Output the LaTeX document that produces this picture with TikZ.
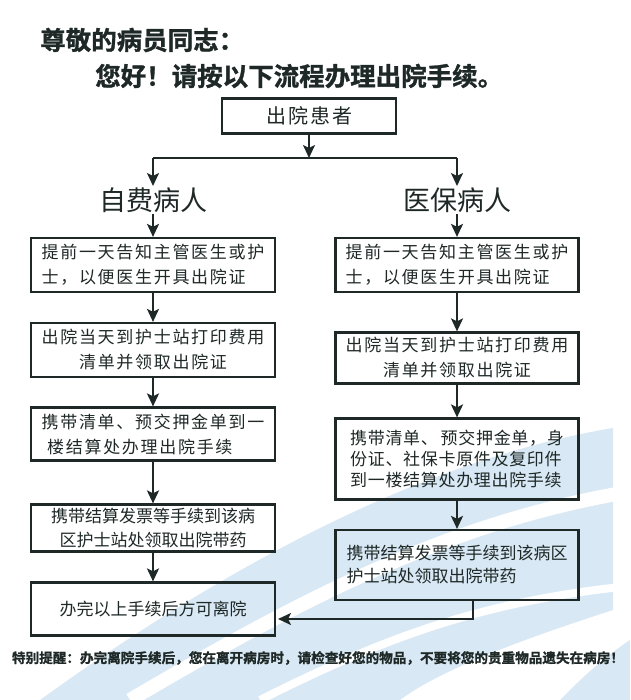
\documentclass[tikz,border=0pt]{standalone}
\usepackage{fontspec}
\newfontfamily\cjk{Noto Sans CJK SC}
\newfontfamily\cjkw[LetterSpace=10]{Noto Sans CJK SC}
\newfontfamily\cjkm[LetterSpace=4]{Noto Sans CJK SC}
\newfontfamily\cjkb[FakeBold=1.2]{Noto Sans CJK SC Bold}
\usetikzlibrary{arrows.meta}
\definecolor{ink}{RGB}{30,40,38}
\definecolor{swoosh}{RGB}{216,232,244}
\tikzset{
  box/.style={draw=ink, line width=2.2pt, rectangle, inner sep=0pt, font=\cjk\fontsize{17}{24}\selectfont, text=ink},
  wide/.style={font=\cjkw\fontsize{17}{25}\selectfont},
  arr/.style={draw=ink, line width=2.2pt, -{Stealth[length=13pt,width=12pt,inset=3pt]}},
  conn/.style={draw=ink, line width=2.2pt},
  head/.style={font=\cjk\fontsize{27}{30}\selectfont, text=ink, inner sep=0pt},
  ttl/.style={font=\cjkb\fontsize{25.5}{28}\selectfont, text=ink, inner sep=0pt, anchor=west}
}
\begin{document}
\begin{tikzpicture}[x=1pt,y=-1pt]
\useasboundingbox (0,0) rectangle (630,700);
% background swooshes
\fill[swoosh] (40,700) .. controls (220,570) and (420,460) .. (613,428) -- (613,610) .. controls (520,640) and (440,670) .. (400,700) -- cycle;
\fill[swoosh] (560,700) .. controls (580,680) and (600,660) .. (630,640) -- (630,700) -- cycle;
\draw[white, line width=14pt] (130,700) .. controls (300,600) and (450,520) .. (640,490);
\draw[white, line width=8pt] (260,700) .. controls (380,640) and (480,600) .. (640,585);
% titles
\node[ttl] (t1) at (40,40) {尊敬的病员同志：};
\node[ttl] (t2) at (95,76) {您好！请按以下流程办理出院手续。};
% top
\node[box, minimum width=174pt, minimum height=35pt, fill=white, font=\cjkw\fontsize{20}{24}\selectfont] (P) at (309,116) {出院患者};
\coordinate (J) at (309,158);
\coordinate (JL) at (153,158);
\coordinate (JR) at (457,158);
\node[head] (A) at (153,200) {自费病人};
\node[head] (B) at (457,200) {医保病人};
\coordinate (Ain) at (153,186);
\coordinate (Bin) at (457,186);
\coordinate (Aout) at (153,214);
\coordinate (Bout) at (457,214);
% left column
\node[box, wide, minimum width=244pt, minimum height=54pt, align=left] (L1) at (153,265) {提前一天告知主管医生或护\\士，以便医生开具出院证};
\node[box, wide, minimum width=244pt, minimum height=54pt, align=center] (L2) at (153,350) {出院当天到护士站打印费用\\清单并领取出院证};
\node[box, wide, minimum width=244pt, minimum height=53pt, align=left] (L3) at (153,434) {携带清单、预交押金单到一\\\ 楼结算处办理出院手续};
\node[box, minimum width=244pt, minimum height=47pt, align=center] (L4) at (153,528) {携带结算发票等手续到该病\\区护士站处领取出院带药};
\node[box, minimum width=244pt, minimum height=53pt] (L5) at (153,609) {办完以上手续后方可离院};
% right column
\node[box, wide, minimum width=243pt, minimum height=54pt, align=left] (R1) at (457,265) {提前一天告知主管医生或护\\士，以便医生开具出院证};
\node[box, wide, minimum width=243pt, minimum height=51pt, align=center] (R2) at (457,358) {出院当天到护士站打印费用\\清单并领取出院证};
\node[box, minimum width=243pt, minimum height=81pt, align=left, font=\cjkm\fontsize{17}{21}\selectfont] (R3) at (457,459) {携带清单、\,预交押金单，身\\份证、社保卡原件及复印件\\到一楼结算处办理出院手续};
\node[box, minimum width=243pt, minimum height=70pt, align=left, font=\cjk\fontsize{17}{23}\selectfont] (R4) at (457,565) {携带结算发票等手续到该病区\\护士站处领取出院带药\hspace{51pt}};
% connectors
\draw[arr] (P.south) -- (J);
\draw[conn] (JL) -- (JR);
\draw[arr] (JL) -- (Ain);
\draw[arr] (JR) -- (Bin);
\draw[arr] (Aout) -- (L1.north);
\draw[arr] (Bout) -- (R1.north);
\draw[arr] (L1) -- (L2);
\draw[arr] (L2) -- (L3);
\draw[arr] (L3) -- (L4);
\draw[arr] (L4) -- (L5);
\draw[arr] (R1) -- (R2);
\draw[arr] (R2) -- (R3);
\draw[arr] (R3) -- (R4);
\coordinate (R4o) at (473,600);
\coordinate (L5in) at (278,619);
\draw[arr] (R4o) |- (L5in);
% reminder
\node[font=\cjkb\fontsize{13.6}{16}\selectfont, text=ink, inner sep=0pt] (N) at (318,658) {特别提醒：办完离院手续后，您在离开病房时，请检查好您的物品，不要将您的贵重物品遗失在病房！};
\end{tikzpicture}
\end{document}
